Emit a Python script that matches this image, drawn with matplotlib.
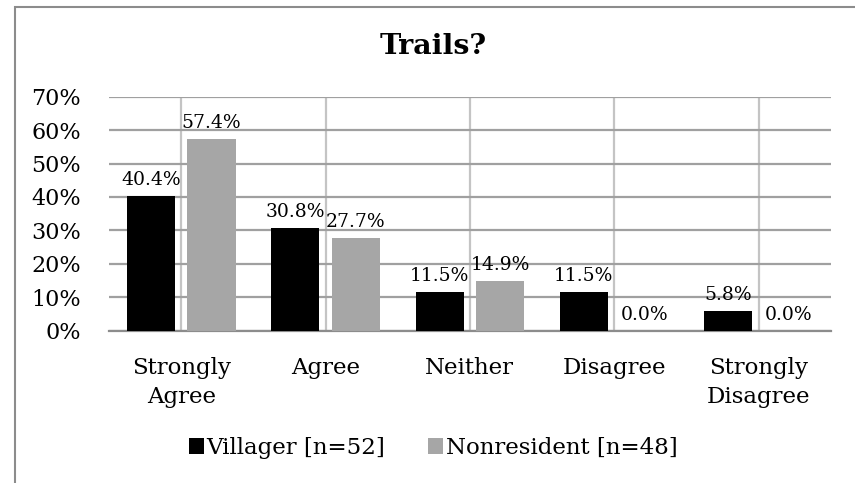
import numpy as np
import matplotlib
matplotlib.use("Agg")
import matplotlib.pyplot as plt
from matplotlib.patches import Rectangle

# survey responses, percent of each group
categories = ["Strongly\nAgree", "Agree", "Neither", "Disagree", "Strongly\nDisagree"]
villager = [40.4, 30.8, 11.5, 11.5, 5.8]
nonresident = [57.4, 27.7, 14.9, 0.0, 0.0]
series_labels = ["Villager [n=52]", "Nonresident [n=48]"]
yticks = [0, 10, 20, 30, 40, 50, 60, 70]

plt.rcParams['font.family'] = ['DejaVu Serif']

fig = plt.figure(figsize=(8.55, 4.83), dpi=100)
ax = fig.add_axes([0.1275, 0.3157, 0.8441, 0.4841])

# outer chart frame (left and top edges show)
fig.patches.append(Rectangle((15 / 855, -0.1), 1.2, 1 - 7 / 483 + 0.1,
                             transform=fig.transFigure, fill=False,
                             edgecolor='#8c8c8c', linewidth=1.5))

x = np.arange(len(categories))
w = 0.333
off = 0.21
b1 = ax.bar(x - off, villager, w, color='black', label=series_labels[0], zorder=3)
b2 = ax.bar(x + off, nonresident, w, color='#a6a6a6', label=series_labels[1], zorder=3)

for bars, vals in ((b1, villager), (b2, nonresident)):
    for r, v in zip(bars, vals):
        ax.annotate(f"{v:.1f}%", (r.get_x() + r.get_width() / 2, v),
                    xytext=(0, 5), textcoords='offset points',
                    ha='center', va='bottom', fontsize=13.5, zorder=4)

ax.set_xlim(-0.5, len(categories) - 0.5)
ax.set_ylim(0, 70)
ax.set_yticks(yticks)
ax.set_yticklabels([f"{t}%" for t in yticks], fontsize=16)
ax.set_xticks(x)
ax.set_xticklabels(categories, fontsize=16.5, linespacing=1.4)
ax.tick_params(axis='y', length=0, pad=20)
ax.tick_params(axis='x', length=0, pad=19)

ax.grid(axis='y', color='#a0a0a0', linewidth=1.6, zorder=0)
ax.grid(axis='x', color='#c4c4c4', linewidth=1.6, zorder=0)
for s in ('top', 'right', 'left'):
    ax.spines[s].set_visible(False)
ax.spines['bottom'].set_color('#8c8c8c')
ax.spines['bottom'].set_linewidth(1.6)

fig.text(433 / 855, 1 - 47 / 483, "Trails?", ha='center', va='center',
         fontsize=20.5, fontweight='bold')

fig.legend(loc='center', bbox_to_anchor=(433 / 855, 1 - 448 / 483), ncol=2,
           frameon=False, fontsize=16.5, handlelength=0.65, handleheight=0.65,
           handletextpad=0.1, columnspacing=1.9)

fig.savefig("out.png", dpi=100)
